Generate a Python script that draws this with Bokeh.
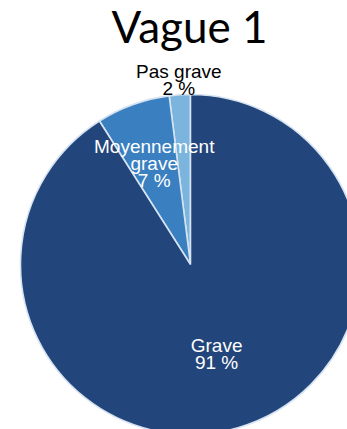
import math
from bokeh.plotting import figure
from bokeh.models import Range1d, ColumnDataSource
from bokeh.core.properties import value
from bokeh.embed import file_html
from bokeh.resources import INLINE

# ---- data ----
title = "Vague 1"
categories = ["Pas grave", "Moyennement grave", "Grave"]
label_lines = [["Pas grave"], ["Moyennement", "grave"], ["Grave"]]
values = [2, 7, 91]
colors = ["#7BB4DC", "#3A80C1", "#22457B"]
label_colors = ["#000000", "#FFFFFF", "#FFFFFF"]
label_radius = [1.09, 0.63, 0.55]

# ---- layout ----
W, H = 347, 429
CX, CY, R = 190, 264, 170  # pie centre / radius in canvas pixels
LINE_H = 17

p = figure(width=W, height=H, output_backend="svg", toolbar_location=None,
           x_range=Range1d(-CX / R, (W - CX) / R),
           y_range=Range1d(-(H - CY) / R, CY / R),
           x_axis_location=None, y_axis_location=None, min_border=0,
           outline_line_color=None, background_fill_color="white",
           border_fill_color="white")
p.grid.visible = False

total = sum(values)
starts, ends, mids = [], [], []
acc = 0.0
for v in values:
    s = math.pi / 2 + acc / total * 2 * math.pi
    e = s + v / total * 2 * math.pi
    starts.append(s)
    ends.append(e)
    mids.append((s + e) / 2)
    acc += v

src = ColumnDataSource(dict(start=starts, end=ends, color=colors, cat=categories))
p.wedge(x=0, y=0, radius=1, start_angle="start", end_angle="end",
        direction="anticlock", fill_color="color", line_color="#D6E3F0",
        line_width=1.6, source=src)

# labels
tx, ty, tt, tc, toff = [], [], [], [], []
for i, v in enumerate(values):
    lines = label_lines[i] + [f"{v} %"]
    n = len(lines)
    for j, ln in enumerate(lines):
        tx.append(label_radius[i] * math.cos(mids[i]))
        ty.append(label_radius[i] * math.sin(mids[i]))
        tt.append(ln)
        tc.append(label_colors[i])
        toff.append((j - (n - 1) / 2) * LINE_H)
lsrc = ColumnDataSource(dict(x=tx, y=ty, text=tt, color=tc, off=toff))
p.text(x="x", y="y", text="text", text_color="color", y_offset="off",
       text_align="center", text_baseline="middle",
       text_font=value("Liberation Sans"), text_font_size="19px", source=lsrc)

# title
p.text(x=[(189 - CX) / R], y=[(CY - 25) / R], text=[title],
       text_align="center", text_baseline="middle",
       text_font=value("Lato"), text_font_size="44px", text_color="#000000")

open("out.html", "w").write(file_html(p, INLINE))
